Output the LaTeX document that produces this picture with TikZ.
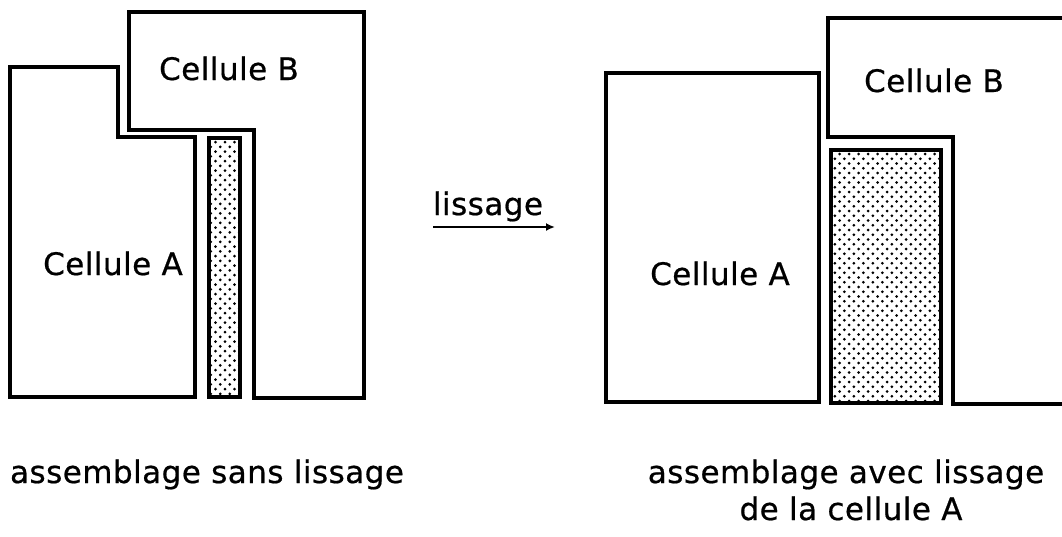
\documentclass[tikz,border=0pt]{standalone}
\usepackage{fontspec}
\usetikzlibrary{arrows.meta}
\setmainfont{DejaVu Sans}
\newfontfamily\lblfont{DejaVu Sans}[FakeBold=0.6,LetterSpace=1.5]
\begin{document}
\begin{tikzpicture}[x=1pt,y=-1pt,
  cell/.style={draw=black,line width=3.2pt,line join=miter},
  stripbox/.style={draw=black,line width=4.5pt},
  lbl/.style={font=\lblfont\fontsize{31}{36}\selectfont,anchor=base,inner sep=0pt},
  arr/.style={draw=black,line width=2.2pt,-{Latex[length=9pt,width=8pt]}}]
\useasboundingbox[fill=white] (0,0) rectangle (1062,536);

% ---------- left: assemblage sans lissage ----------
\draw[cell] (10,67) -- (118,67) -- (118,137) -- (195,137) -- (195,397) -- (10,397) -- cycle;
\draw[cell] (129,12) -- (364,12) -- (364,398) -- (254,398) -- (254,130) -- (129,130) -- cycle;
\begin{scope}
  \clip (211,140) rectangle (238,395);
  \foreach \j in {0,...,54} {
    \pgfmathsetmacro\off{mod(\j,2)*4.75}
    \foreach \i in {0,...,4} { \fill (206+\off+\i*9.5, 142+\j*4.75) circle (1.5pt); }
  }
\end{scope}
\draw[stripbox] (209,138) rectangle (240,397);
\node[lbl] (lb) at (229,80) {Cellule B};
\node[lbl] (la) at (113,275) {Cellule A};
\node[lbl] (lcap) at (207,483) {assemblage sans lissage};

% ---------- arrow ----------
\node[lbl] (liss) at (488,215) {lissage};
\coordinate (as) at (433,227);
\coordinate (ae) at (555,227);
\draw[arr] (as) -- (ae);

% ---------- right: assemblage avec lissage ----------
\draw[cell] (606,73) rectangle (819,402);
\draw[cell] (1066,18) -- (828,18) -- (828,137) -- (953,137) -- (953,404) -- (1066,404);
\begin{scope}
  \clip (833,152) rectangle (939,401);
  \foreach \j in {0,...,54} {
    \pgfmathsetmacro\off{mod(\j,2)*4.75}
    \foreach \i in {0,...,12} { \fill (830+\off+\i*9.5, 154+\j*4.75) circle (1.5pt); }
  }
\end{scope}
\draw[stripbox] (831,150) rectangle (941,403);
\node[lbl] (rb) at (934,92) {Cellule B};
\node[lbl] (ra) at (720,285) {Cellule A};
\node[lbl] (rcap1) at (846,483) {assemblage avec lissage};
\node[lbl] (rcap2) at (851,520) {de la cellule A};
\end{tikzpicture}
\end{document}
